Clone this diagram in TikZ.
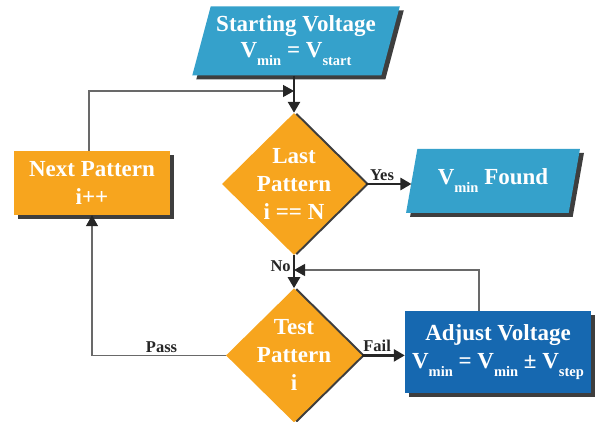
\documentclass[tikz,border=0pt]{standalone}
\usepackage{fontspec}
\setmainfont{Liberation Serif}
\usetikzlibrary{positioning, arrows.meta, shapes.geometric, shadows}
\definecolor{inputblue}{RGB}{53,161,203}
\definecolor{stepblue}{RGB}{22,104,176}
\definecolor{taskorange}{RGB}{247,165,30}
\definecolor{shadowgray}{RGB}{62,62,62}
\definecolor{linedark}{RGB}{38,38,38}
\definecolor{linegray}{RGB}{105,105,105}
\newcommand{\lowsub}[1]{\raisebox{-8pt}{\fontsize{14.5}{14}\selectfont #1}}
\tikzset{box text/.style={text=white, align=center, inner sep=0pt, font=\fontsize{23}{28}\selectfont\bfseries},
	io node/.style={box text, trapezium, trapezium left angle=71, trapezium right angle=109, trapezium stretches=true, fill=inputblue, drop shadow={shadow xshift=4pt, shadow yshift=-4pt, fill=shadowgray, opacity=1}},
	task node/.style={box text, rectangle, fill=taskorange, drop shadow={shadow xshift=4pt, shadow yshift=-4pt, fill=shadowgray, opacity=1}},
	step node/.style={box text, rectangle, fill=stepblue, drop shadow={shadow xshift=4pt, shadow yshift=-4pt, fill=shadowgray, opacity=1}},
	check node/.style={box text, diamond, aspect=1, inner sep=-6pt, fill=taskorange, drop shadow={shadow xshift=3pt, shadow yshift=0pt, fill=shadowgray, opacity=1}},
	flow/.style={draw=linedark, line width=2.5pt, -{Triangle[length=11pt, width=12pt]}},
	back/.style={draw=linegray, line width=1.3pt, -{Triangle[length=11pt, width=12pt, color=linedark]}},
	answer/.style={font=\fontsize{16.5}{16}\selectfont\bfseries, text=linedark, inner sep=2pt},}

\begin{document}
\begin{tikzpicture}[x=1pt, y=-1pt]
	\useasboundingbox (0,0) rectangle (595,422);
	% Shapes
	\node[io node, minimum width=208pt, minimum height=69pt, font=\fontsize{23}{26}\selectfont\bfseries] (start) at (296,41) {Starting Voltage\\V\lowsub{min} = V\lowsub{start}};
	\node[check node, minimum width=144pt, minimum height=142pt] (last) at (294,184) {Last\\Pattern\\i == N};
	\node[check node, minimum width=136pt, minimum height=134pt, below = 33pt of last] (test) {Test\\Pattern\\i};
	\node[task node, minimum width=156pt, minimum height=64pt] (next) at (92,183) {Next Pattern\\i++};
	\node[io node, minimum width=174pt, minimum height=64pt] (found) at (493,181) {V\lowsub{min} Found};
	\node[step node, minimum width=186pt, minimum height=82pt] (adjust) at (498,352) {Adjust Voltage\\V\lowsub{min} = V\lowsub{min} ± V\lowsub{step}};
	\coordinate (merge) at (294,91);
	\coordinate (rejoin) at (294,270);
	% Paths
	\draw[flow] (last.north |- start.south) -- (last.north);
	\draw[back] ([xshift=-3pt]next.north) |- (merge);
	\draw[flow] (last.east) -- node[answer, above, pos=0.35] {Yes} (last.east -| found.west);
	\draw[flow] (last.south) -- node[answer, left, pos=0.33] {No} (test.north);
	\draw[back] ([xshift=-19pt]adjust.north) |- (rejoin);
	\draw[flow] (test.east) -- node[answer, above, pos=0.35] {Fail} (test.east -| adjust.west);
	\draw[back] (test.west) -| node[answer, above, pos=0.24] {Pass} (next.south);
\end{tikzpicture}
\end{document}
